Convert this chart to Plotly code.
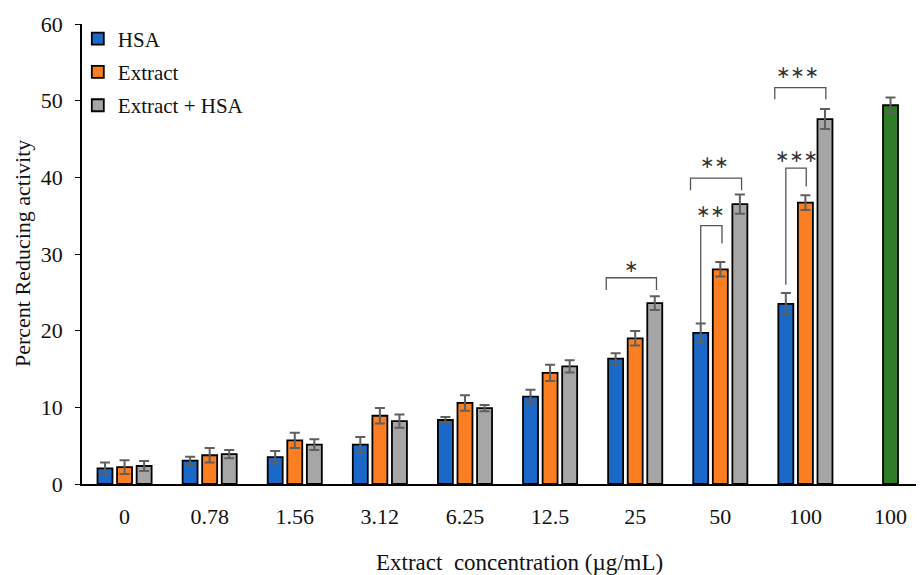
import plotly.graph_objects as go

categories = ["0", "0.78", "1.56", "3.12", "6.25", "12.5", "25", "50", "100", "100"]
hsa = [2.05, 3.05, 3.5, 5.13, 8.35, 11.4, 16.35, 19.7, 23.5]
hsa_err = [0.75, 0.5, 0.8, 1.0, 0.4, 0.9, 0.7, 1.25, 1.4]
extract = [2.2, 3.75, 5.7, 8.9, 10.57, 14.5, 19.0, 28.0, 36.7]
extract_err = [0.9, 0.95, 1.0, 1.0, 1.0, 1.05, 0.95, 0.95, 0.95]
combo = [2.35, 3.9, 5.13, 8.2, 9.9, 15.35, 23.6, 36.5, 47.6]
combo_err = [0.65, 0.55, 0.7, 0.85, 0.4, 0.8, 0.9, 1.25, 1.3]
standard = [49.4]
standard_err = [1.0]

# significance brackets: (x_left, x_right, y_top, y_left_end, y_right_end, label, label_x, label_y)
brackets = [
    (5.66, 6.25, 26.9, 25.3, 25.3, "∗", 5.95, 28.4),
    (6.65, 7.25, 39.9, 38.3, 38.3, "∗∗", 6.93, 42.0),
    (6.77, 7.02, 33.7, 21.0, 31.4, "∗∗", 6.89, 35.6),
    (7.64, 8.24, 51.7, 50.2, 50.2, "∗∗∗", 7.91, 53.7),
    (7.77, 8.01, 41.2, 26.0, 38.8, "∗∗∗", 7.90, 42.8),
]

FONT = "Liberation Serif, Times New Roman, serif"
W = 0.176
STEP = 0.23
groups = list(range(9))

fig = go.Figure()

def add_bar(name, x, y, err, color, off, show=True):
    fig.add_trace(go.Bar(
        name=name, x=x, y=y, width=W, offset=off,
        marker=dict(color=color, line=dict(color="black", width=1.8)),
        error_y=dict(type="data", array=err, color="#5f5f5f", thickness=2, width=5),
        showlegend=show, legendgroup=name,
    ))

add_bar("HSA", groups, hsa, hsa_err, "#1a68c8", -STEP - W / 2)
add_bar("Extract", groups, extract, extract_err, "#fb7f22", -W / 2)
add_bar("Extract + HSA", groups, combo, combo_err, "#a6a6a6", STEP - W / 2)
add_bar("Standard", [9], standard, standard_err, "#2f7d27", -W / 2, show=False)

shapes = []
for xl, xr, yt, yle, yre, lab, lx, ly in brackets:
    shapes.append(dict(
        type="path",
        path=f"M {xl},{yle} L {xl},{yt} L {xr},{yt} L {xr},{yre}",
        xref="x", yref="y", line=dict(color="#555555", width=1.3),
    ))
    fig.add_annotation(x=lx, y=ly, xref="x", yref="y", text=lab, showarrow=False,
                       font=dict(family="DejaVu Sans", size=17, color="#333333"),
                       yanchor="middle")

fig.add_annotation(text="Extract  concentration (µg/mL)", x=0.521, y=-0.17,
                   xref="paper", yref="paper", showarrow=False,
                   xanchor="center", yanchor="middle",
                   font=dict(family=FONT, size=23, color="#111111"))
fig.add_annotation(text="Percent Reducing activity", x=-0.0714, y=0.5,
                   xref="paper", yref="paper", showarrow=False, textangle=-90,
                   xanchor="center", yanchor="middle",
                   font=dict(family=FONT, size=22, color="#111111"))

fig.update_layout(
    width=916, height=567,
    margin=dict(l=74, r=2, t=16, b=91),
    paper_bgcolor="white", plot_bgcolor="white",
    barmode="overlay",
    shapes=shapes,
    font=dict(family=FONT, size=20, color="#111111"),
    showlegend=True,
    legend=dict(x=-0.005, y=1.012, xanchor="left", yanchor="top",
                font=dict(family=FONT, size=21, color="#111111"),
                bgcolor="rgba(0,0,0,0)", tracegroupgap=3, itemwidth=30),
    xaxis=dict(
        tickmode="array", tickvals=list(range(10)), ticktext=categories,
        range=[-0.5, 9.37], showline=True, linecolor="black", linewidth=1.5,
        ticks="", ticklabelstandoff=12, showgrid=False, zeroline=False,
        tickfont=dict(family=FONT, size=22, color="#111111"),
    ),
    yaxis=dict(
        range=[0, 60], tickvals=[0, 10, 20, 30, 40, 50, 60], showline=True,
        linecolor="black", linewidth=1.5, ticks="outside", ticklen=5,
        tickcolor="black", showgrid=False, zeroline=False, ticklabelstandoff=8,
        tickfont=dict(family=FONT, size=22, color="#111111"),
    ),
)

fig.write_html("out.html")
